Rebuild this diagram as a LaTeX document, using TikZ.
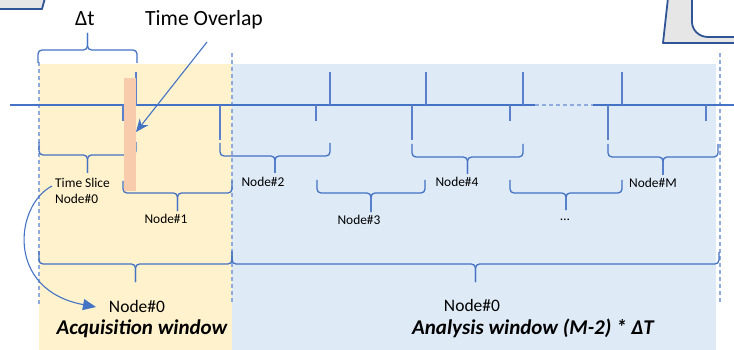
\documentclass[tikz,border=0pt]{standalone}
\usepackage{fontspec}
\setmainfont{Carlito}
\usetikzlibrary{arrows.meta}
\definecolor{lineblue}{HTML}{4472C4}
\definecolor{tickblue}{HTML}{5B7FCB}
\definecolor{dashblue}{HTML}{8FAADC}
\definecolor{acqfill}{HTML}{FFF2CC}
\definecolor{anafill}{HTML}{DEEAF6}
\definecolor{overlapfill}{HTML}{F8CBAD}
\definecolor{frameblue}{HTML}{2F5597}
\definecolor{framefill}{HTML}{E7E6E6}

% horizontal brace: x from #1 to #2, bar at y=#3, ends reach y=#4, tip reaches y=#5
\newcommand\hbrace[5]{%
  \pgfmathsetmacro\brcmid{(#1+#2)/2}
  \draw[bracestyle] (#1,#4) -- (#1,#3) -- (\brcmid,#3) -- (\brcmid,#5);
  \draw[bracestyle] (#2,#4) -- (#2,#3) -- (\brcmid,#3) -- (\brcmid,#5);
}

\begin{document}
\begin{tikzpicture}[x=1pt,y=-1pt,
  bracestyle/.style={draw=lineblue,line width=1.3pt,rounded corners=4pt},
  tickup/.style={draw=tickblue,line width=1.2pt},
  windowdash/.style={draw=dashblue,line width=1.5pt,dash pattern=on 4pt off 3pt},
  small/.style={font=\fontsize{13.4}{16}\selectfont,inner sep=0pt},
  mid/.style={font=\fontsize{17.5}{20}\selectfont,inner sep=0pt},
  big/.style={font=\fontsize{21.7}{26}\selectfont,inner sep=0pt},
  title/.style={font=\fontsize{21}{24}\selectfont\bfseries\itshape,inner sep=0pt},
  frameshape/.style={fill=framefill,draw=frameblue,line width=1.8pt,line join=round},
  pointer/.style={draw=lineblue,line width=1.1pt}
]
\useasboundingbox (0,0) rectangle (734,350);

% partial shapes at the top corners
\path[frameshape] (-2,-2) -- (45,-2) -- (42,9) -- (-2,9) -- cycle;
\path[frameshape] (668,-2) -- (663,43) -- (736,43) -- (736,37) -- (708,37)
  .. controls (699,37) and (692,30) .. (692,22) -- (692,-2) -- cycle;

% window backgrounds
\fill[acqfill] (39,64) rectangle (232,350);
\fill[anafill] (232,64) rectangle (716,350);

% window boundaries
\draw[windowdash] (39,62) -- (39,306);
\draw[windowdash] (232,53) -- (232,302);
\draw[windowdash] (720,53) -- (720,302);

% time axis
\draw[draw=lineblue,line width=1.2pt] (10,105) -- (535,105);
\draw[draw=dashblue,line width=1.4pt,dash pattern=on 4pt off 3pt] (535,105) -- (593,105);
\draw[draw=lineblue,line width=1.2pt] (593,105) -- (734,105);

% slice ends above the axis
\foreach \tx in {136,330,426,523,622}
  \draw[tickup] (\tx,72) -- (\tx,105);
% slice starts below the axis
\foreach \tx in {123,316,510,706}
  \draw[tickup] (\tx,105) -- (\tx,121);
\foreach \tx in {220,412,608}
  \draw[tickup] (\tx,105) -- (\tx,140);

% slice width brace
\hbrace{38}{137}{50}{63}{33}
\node[big] (dt) at (85,19) {Δt};

% per-node time slices
\hbrace{39}{136}{155}{142}{173}
\hbrace{123}{232}{193}{181}{211}
\hbrace{220}{330}{156}{143}{173}
\hbrace{317}{425}{193}{180}{212}
\hbrace{412}{523}{157}{144}{174}
\hbrace{510}{622}{193}{180}{210}
\hbrace{608}{718}{157}{144}{175}

% overlap between consecutive slices
\fill[overlapfill] (124,78) rectangle (136,191);

% window braces
\hbrace{39}{232}{264}{251}{282}
\hbrace{232}{719}{264}{252}{282}

% labels
\node[big] (ovl) at (204,20) {Time Overlap};
\node[small,align=left,anchor=west] (ts) at (55,191) {Time Slice\\Node\#0};
\node[small] (n1) at (166,219) {Node\#1};
\node[small] (n2) at (263,182) {Node\#2};
\node[small] (n3) at (359,220) {Node\#3};
\node[small] (n4) at (457,182) {Node\#4};
\node[small] (nd) at (565,220) {\ldots};
\node[small] (nm) at (653,183) {Node\#M};
\node[mid] (acqn) at (137,306) {Node\#0};
\node[mid] (anan) at (472,305) {Node\#0};
\node[title] (acq) at (142,329) {Acquisition window};
\node[title] (ana) at (533,328) {Analysis window (M-2) * ΔT};

% pointers
\coordinate (ovlfrom) at (207,42);
\coordinate (ovlto) at (136,132);
\draw[pointer,-{Stealth[length=13pt,width=11pt]}] (ovlfrom) -- (ovlto);
\coordinate (tsfrom) at (52,186);
\coordinate (acqto) at (96,307);
\draw[pointer,-{Triangle[length=13pt,width=11pt]}] (tsfrom)
  .. controls (15,205) and (5,290) .. (acqto);
\end{tikzpicture}
\end{document}
